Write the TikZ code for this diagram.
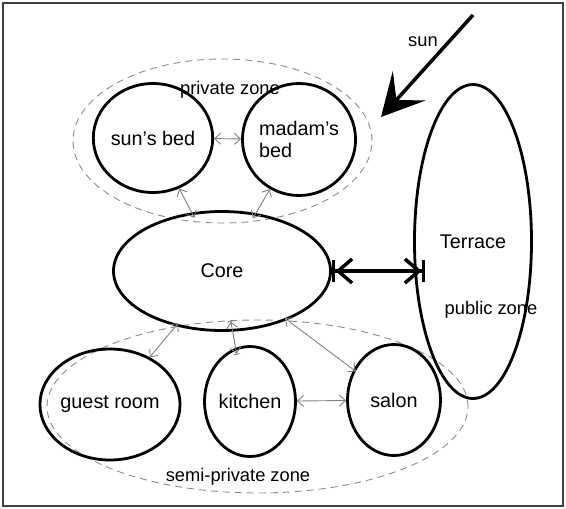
\documentclass[tikz,border=0pt]{standalone}
\usepackage{fontspec}
\setmainfont{Liberation Sans}
\usetikzlibrary{shapes.geometric,arrows.meta}

\tikzset{every picture/.style={line width=0.75pt}}
\tikzset{
  room/.style={draw, ellipse, line width=2.8pt, inner sep=0pt, align=left, font=\fontsize{19.8}{22}\selectfont},
  zone/.style={draw=black!45, ellipse, dash pattern=on 7pt off 5pt, line width=0.9pt, inner sep=0pt},
  link/.style={draw=black!50, line width=0.9pt, >={Straight Barb[length=6pt,width=11pt]}, <->},
  txt/.style={inner sep=0.75pt, font=\fontsize{18.3}{22}\selectfont}
}

\begin{document}
\begin{tikzpicture}[x=1pt,y=1pt,yscale=-1,xscale=1]
	\useasboundingbox (0,0) rectangle (566,509);
	%Shape: Rectangle
	\draw [line width=1.6pt, black!75] (3,3) rectangle (563,506);
	%Shape: Ellipse (zones)
	\node [zone, minimum width=299pt, minimum height=164pt] (privzone) at (222.5,141) {};
	\node [zone, minimum width=421pt, minimum height=173pt] (semizone) at (257.5,406.5) {};
	%Shape: Ellipse (rooms)
	\node [room, minimum width=97pt, minimum height=109pt] (sunbed) at (153,138) {sun's bed};
	\node [room, minimum width=95pt, minimum height=112pt] (madambed) at (299,139.5) {madam's\\bed};
	\node [room, minimum width=217pt, minimum height=119pt] (core) at (222,271) {Core};
	\node [room, minimum width=117pt, minimum height=314pt] (terrace) at (473,241.5) {Terrace};
	\node [room, minimum width=91pt, minimum height=111pt] (guest) at (110,404.5) {guest room};
	\node [room, minimum width=91pt, minimum height=110pt] (kitchen) at (250,401.5) {kitchen};
	\node [room, minimum width=93pt, minimum height=111pt] (salon) at (394,400) {salon};
	% Text Node
	\node [txt] (privlabel) at (230,90) {private zone};
	% Text Node
	\node [txt] (semilabel) at (238,477) {semi-private zone};
	% Text Node
	\node [txt] (publabel) at (491,310) {public zone};
	% Text Node
	\node [txt] (sunlabel) at (423,42) {sun};
	%Straight Lines (sun)
	\coordinate (sunfrom) at (473,15);
	\coordinate (sunto) at (381,117);
	\draw [line width=3.5pt, -{Stealth[length=42pt,width=44pt,inset=19pt]}] (sunfrom) -- (sunto);
	%Straight Lines (core to terrace)
	\draw [line width=3.5pt, {Bar[width=22pt]Straight Barb[length=14pt,width=24pt]}-{Straight Barb[length=14pt,width=24pt]Bar[width=22pt]}] (core.east) -- ([xshift=12pt]core.east -| terrace.west);
	%Straight Lines (links)
	\draw [link] (sunbed) -- (madambed);
	\draw [link, shorten >=-6pt] (sunbed) -- (core);
	\draw [link, shorten >=-6pt] (madambed) -- (core);
	\draw [link, shorten <=-4pt] (core) -- (guest);
	\draw [link, |<->|, shorten <=-11pt, shorten >=-7pt] (core.280) -- (kitchen.105);
	\draw [link, shorten <=-3pt, shorten >=-3pt] (core) -- (salon);
	\draw [link] (kitchen) -- (salon);
\end{tikzpicture}
\end{document}
